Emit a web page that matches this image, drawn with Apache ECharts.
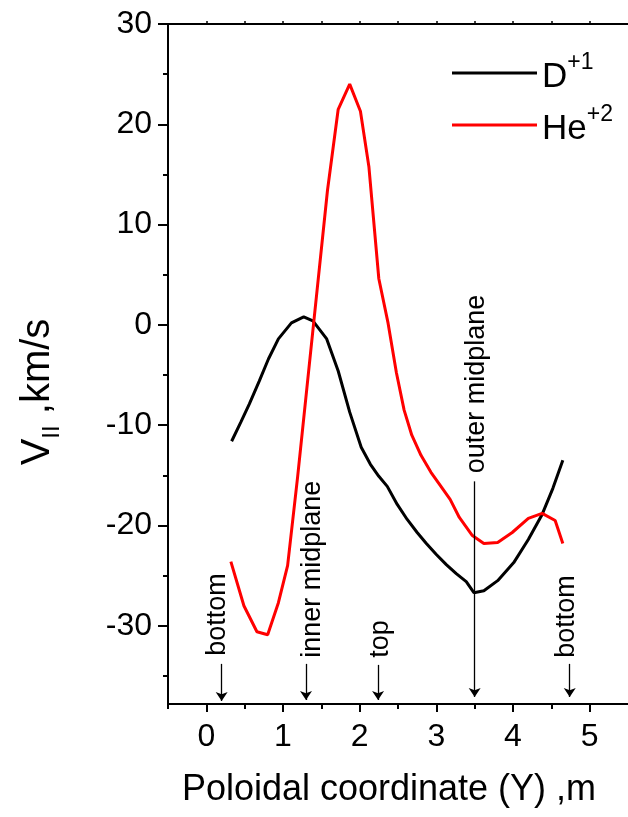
<!DOCTYPE html>
<html><head><meta charset="utf-8">
<script src="https://cdn.jsdelivr.net/npm/echarts@6/dist/echarts.min.js"></script>
<style>html,body{margin:0;padding:0;background:#fff}#c{width:628px;height:817px}</style>
</head><body><div id="c"></div>
<script>
// D+1 curve
const dX = [0.33,0.45,0.56,0.69,0.81,0.94,1.11,1.27,1.39,1.57,1.72,1.87,2.02,2.14,2.25,2.36,2.49,2.62,2.75,2.87,3.00,3.13,3.26,3.39,3.49,3.62,3.80,4.01,4.20,4.38,4.52,4.65];
const dY = [-11.6,-9.7,-7.9,-5.6,-3.4,-1.4,0.2,0.8,0.4,-1.4,-4.6,-8.7,-12.2,-13.9,-15.1,-16.1,-17.9,-19.4,-20.7,-21.8,-22.9,-23.9,-24.8,-25.6,-26.7,-26.5,-25.5,-23.7,-21.4,-18.9,-16.3,-13.5];
// He+2 curve
const hX = [0.32,0.49,0.66,0.80,0.94,1.06,1.19,1.31,1.43,1.58,1.72,1.87,2.01,2.12,2.25,2.37,2.48,2.58,2.68,2.80,2.93,3.06,3.18,3.30,3.47,3.62,3.80,3.99,4.20,4.38,4.55,4.65];
const hY = [-23.6,-28.0,-30.6,-30.9,-27.7,-24.0,-15.2,-6.4,2.4,13.4,21.5,24.0,21.3,15.8,4.6,0.2,-4.8,-8.5,-11.0,-13.0,-14.7,-16.1,-17.4,-19.2,-21.0,-21.8,-21.7,-20.7,-19.3,-18.8,-19.5,-21.8];
// tick labels
const xTicks = [0,1,2,3,4,5];
const xMinor = [-0.5,0.5,1.5,2.5,3.5,4.5];
const xTop = [0,0.5,1,1.5,2,2.5,3,3.5,4,4.5,5];
const yTicks = [-30,-20,-10,0,10,20,30];
const yMinor = [-35,-25,-15,-5,5,15,25];
// annotations
const annoText = ['bottom','inner midplane','top','outer midplane','bottom'];
const annoArrowX = [0.2,1.3,2.24,3.5,4.74];
const annoArrowTop = [-33.8,-33.8,-33.9,-15.6,-33.8];
const annoArrowBot = [-37.5,-37.4,-37.4,-37.1,-37.1];
const annoTextX = [0.15,1.38,2.27,3.52,4.7];
const annoTextY = [-33.0,-33.2,-33.2,-14.8,-33.2];

const F = 'Arial, "Liberation Sans", sans-serif';
const chart = echarts.init(document.getElementById('c'), null, {renderer:'canvas'});
const zip = (a,b) => a.map((v,i)=>[v,b[i]]);
const option = {
  animation:false,
  backgroundColor:'#fff',
  grid:{left:168, top:24, right:-6, bottom:113},
  legend:{
    orient:'vertical', left:447, top:46, itemGap:8,
    icon:'rect', itemWidth:85, itemHeight:3,
    data:['D','He'],
    formatter:function(n){return n==='D' ? '{b|D}{p|+1}' : '{b|He}{p|+2}';},
    textStyle:{fontFamily:F, color:'#000', rich:{
      b:{fontSize:35, fontFamily:F, color:'#000', lineHeight:44, verticalAlign:'bottom'},
      p:{fontSize:23, fontFamily:F, color:'#000', lineHeight:44, verticalAlign:'top', padding:[0,0,14,0]}
    }}
  },
  xAxis:[
    {type:'value', min:-0.5, max:5.5, position:'bottom',
     name:'Poloidal coordinate (Y) ,m', nameLocation:'middle', nameGap:68,
     nameTextStyle:{fontFamily:F, fontSize:36, color:'#000', padding:[0,18,0,0]},
     axisLine:{show:true, onZero:false, lineStyle:{color:'#000', width:2}},
     axisTick:{show:true, length:8, customValues:xTicks, lineStyle:{color:'#000', width:2}},
     axisLabel:{show:true, customValues:xTicks, margin:17, fontFamily:F, fontSize:32, color:'#000'},
     splitLine:{show:false}},
    {type:'value', min:-0.5, max:5.5, position:'bottom',
     axisLine:{show:false, onZero:false}, axisTick:{show:true, length:5, customValues:xMinor, lineStyle:{color:'#000', width:2}},
     axisLabel:{show:false}, splitLine:{show:false}},
    {type:'value', min:-0.5, max:5.5, position:'top',
     axisLine:{show:true, onZero:false, lineStyle:{color:'#000', width:2}},
     axisTick:{show:true, length:3, customValues:xTop, lineStyle:{color:'#000', width:1.5}},
     axisLabel:{show:false}, splitLine:{show:false}}
  ],
  yAxis:[
    {type:'value', min:-37.8, max:30, position:'left',
     name:'{v|V}{s|II}{v| ,km/s}', nameLocation:'middle', nameGap:104, nameRotate:90,
     nameTextStyle:{fontFamily:F, color:'#000', padding:[0,0,0,-56], rich:{
       v:{fontSize:40, fontFamily:F, color:'#000', lineHeight:46, verticalAlign:'top'},
       s:{fontSize:24, fontFamily:F, color:'#000', lineHeight:34, verticalAlign:'bottom'}
     }},
     axisLine:{show:true, onZero:false, lineStyle:{color:'#000', width:2}},
     axisTick:{show:true, length:10, customValues:yTicks, lineStyle:{color:'#000', width:2}},
     axisLabel:{show:true, customValues:yTicks, margin:16, fontFamily:F, fontSize:32, color:'#000'},
     splitLine:{show:false}},
    {type:'value', min:-37.8, max:30, position:'left',
     axisLine:{show:false, onZero:false}, axisTick:{show:true, length:5, customValues:yMinor, lineStyle:{color:'#000', width:2}},
     axisLabel:{show:false}, splitLine:{show:false}}
  ],
  series:[
    {name:'D', type:'line', data:zip(dX,dY), showSymbol:false, symbol:'none',
     lineStyle:{color:'#000', width:3}, itemStyle:{color:'#000'}, z:3},
    {name:'He', type:'line', data:zip(hX,hY), showSymbol:false, symbol:'none',
     lineStyle:{color:'#ff0000', width:3}, itemStyle:{color:'#ff0000'}, z:3},
    {name:'anno', type:'scatter', symbolSize:0, silent:true, z:4,
     itemStyle:{color:'#000'},
     data:annoText.map((t,i)=>[annoTextX[i], annoTextY[i], t]),
     label:{show:true, position:'inside', rotate:90, align:'left', verticalAlign:'middle',
       formatter:p=>p.data[2], fontFamily:F, fontSize:27, color:'#000',
       textBorderWidth:0, textBorderColor:'transparent', opacity:1},
     markLine:{silent:true, symbol:['none','arrow'], symbolSize:9, animation:false,
       label:{show:false}, lineStyle:{color:'#000', width:1.3, type:'solid'},
       data:annoArrowX.map((x,i)=>[{coord:[x, annoArrowTop[i]]},{coord:[x, annoArrowBot[i]]}])}
    }
  ]
};
chart.setOption(option);
</script></body></html>
